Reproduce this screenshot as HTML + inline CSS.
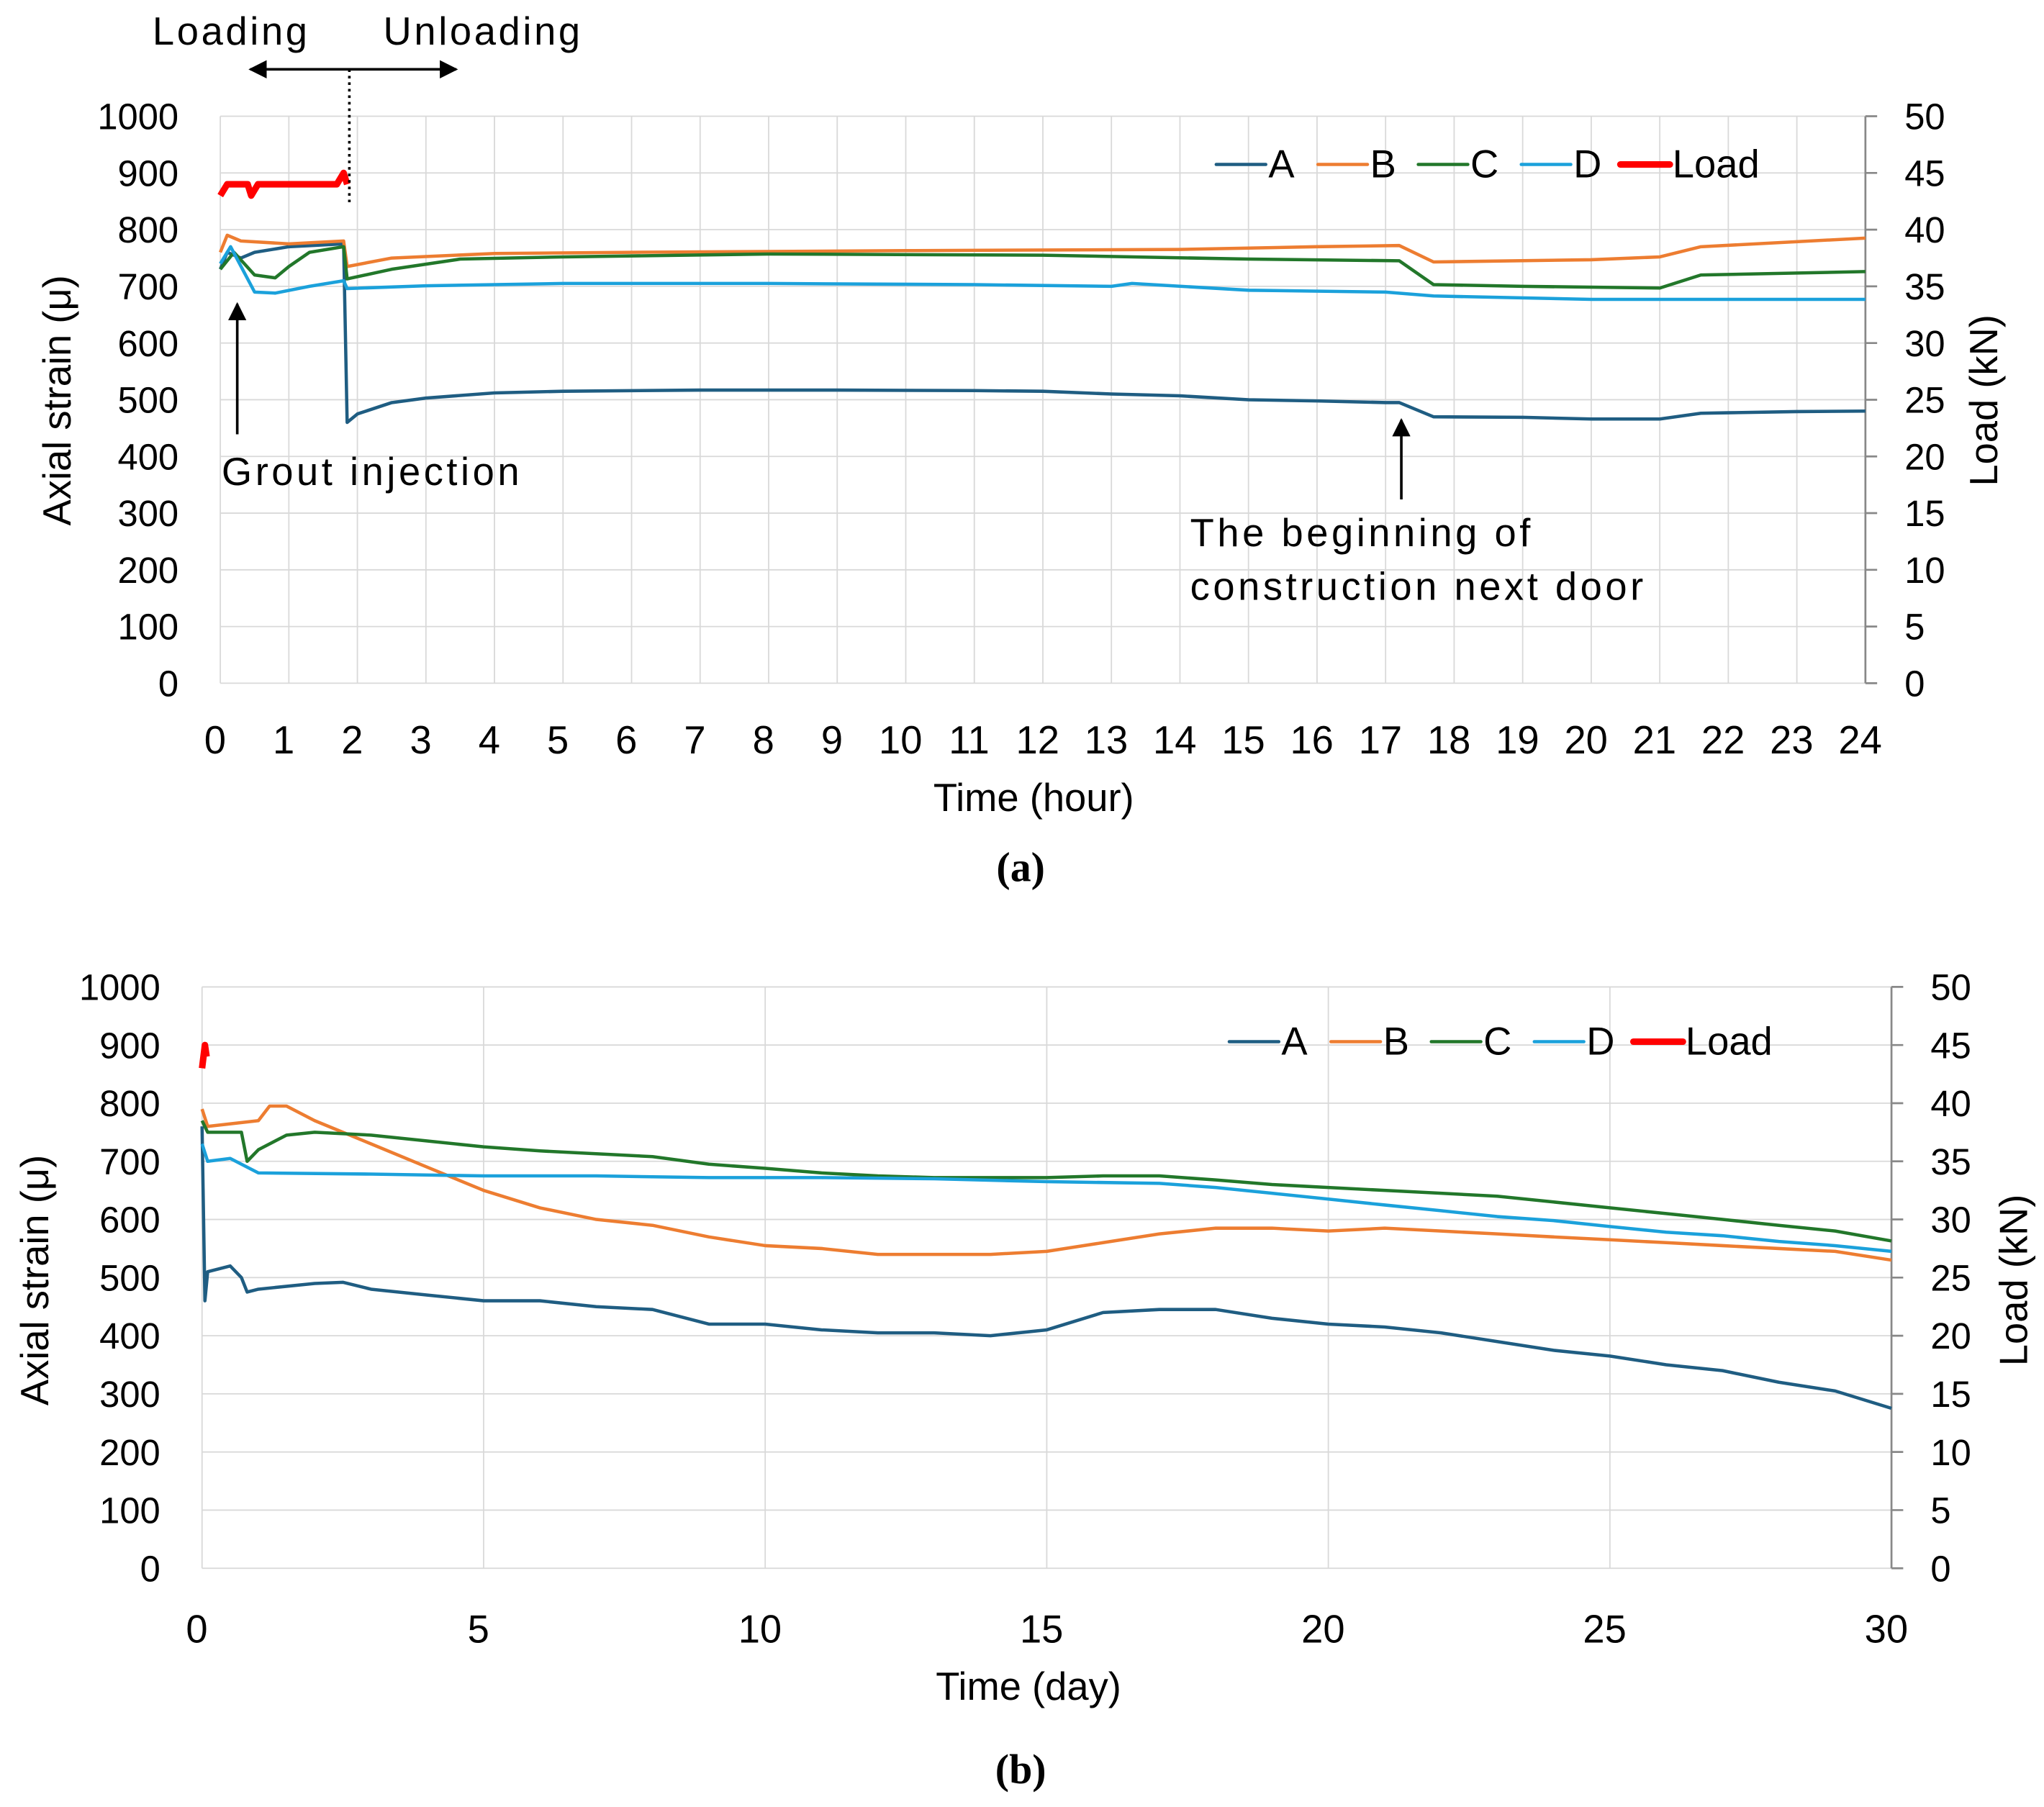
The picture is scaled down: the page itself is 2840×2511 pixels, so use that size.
<!DOCTYPE html>
<html><head><meta charset="utf-8"><style>
html,body{margin:0;padding:0;background:#fff;}
svg{display:block;}
text{font-family:"Liberation Sans Narrow","Liberation Sans",sans-serif;fill:#000;}
</style></head><body>
<svg id="s" width="2840" height="2511" viewBox="0 0 1568 1386"></svg>
<script>
// ---- chart (a) data ----
const aTimeA=[0,0.1,0.3,0.5,1,1.8,1.85,2,2.5,3,4,5,7,9,11,12,13,14,15,16,17,17.2,17.7,19,20,21,21.6,22,23,24];
const aValA=[730,760,750,760,770,775,460,475,495,503,512,515,517,517,516,515,510,507,500,498,495,495,470,469,466,466,476,477,479,480];
const aTimeB=[0,0.1,0.3,1,1.8,1.85,2.5,4,6,10,14,16,17.2,17.7,20,21,21.6,24];
const aValB=[760,790,780,775,780,735,750,758,760,763,765,770,772,743,747,752,770,785];
const aTimeC=[0,0.2,0.5,0.8,1,1.3,1.8,1.85,2.5,3.5,5,8,12,15,17.2,17.7,19,21,21.6,24];
const aValC=[730,760,720,715,735,760,770,713,730,748,752,757,755,748,745,703,700,697,720,726];
const aTimeD=[0,0.15,0.5,0.8,1.3,1.8,1.85,3,5,8,11,13,13.3,15,17,17.7,20,24];
const aValD=[740,770,690,688,700,710,696,701,705,705,703,700,705,693,690,683,677,677];
const aTimeLoad=[0,0.1,0.2,0.4,0.45,0.55,1.7,1.8,1.85];
const aValLoad=[43,44,44,44,43,44,44,45,44];
const aXTicks=[0,1,2,3,4,5,6,7,8,9,10,11,12,13,14,15,16,17,18,19,20,21,22,23,24];
// ---- chart (b) data ----
const bTimeA=[0,0.05,0.1,0.5,0.7,0.8,1,2,2.5,3,4,5,6,7,8,9,10,11,12,13,14,15,16,17,18,19,20,21,22,23,24,25,26,27,28,29,30];
const bValA=[760,460,510,520,500,475,480,490,492,480,470,460,460,450,445,420,420,410,405,405,400,410,440,445,445,430,420,415,405,390,375,365,350,340,320,305,275];
const bTimeB=[0,0.1,1,1.2,1.5,2,3,4,5,6,7,8,9,10,11,12,13,14,15,16,17,18,19,20,21,22,23,24,25,26,27,28,29,30];
const bValB=[790,760,770,795,795,770,730,690,650,620,600,590,570,555,550,540,540,540,545,560,575,585,585,580,585,580,575,570,565,560,555,550,545,530];
const bTimeC=[0,0.1,0.7,0.8,1,1.5,2,3,4,5,6,7,8,9,10,11,12,13,14,15,16,17,18,19,20,21,22,23,24,25,26,27,28,29,30];
const bValC=[770,750,750,700,720,745,750,745,735,725,718,713,708,695,688,680,675,672,672,672,675,675,668,660,655,650,645,640,630,620,610,600,590,580,563];
const bTimeD=[0,0.1,0.5,1,3,5,7,9,11,13,15,17,18,19,20,21,22,23,24,25,26,27,28,29,30];
const bValD=[730,700,705,680,678,675,675,672,672,670,665,662,655,645,635,625,615,605,598,588,578,572,562,555,545];
const bTimeLoad=[0,0.05,0.08];
const bValLoad=[43,45,44];
const bXTicks=[0,5,10,15,20,25,30];
const yTicks=[0,100,200,300,400,500,600,700,800,900,1000];
const y2Ticks=[0,5,10,15,20,25,30,35,40,45,50];

const NS="http://www.w3.org/2000/svg";
const svg=document.getElementById('s');
function el(tag,attrs,parent){const e=document.createElementNS(NS,tag);for(const k in attrs)e.setAttribute(k,attrs[k]);(parent||svg).appendChild(e);return e;}
function txt(str,x,y,size,anchor,parent,extra){const t=el('text',Object.assign({x:x,y:y,'font-size':size,'text-anchor':anchor||'start'},extra||{}),parent);t.textContent=str;return t;}

const colors={A:'#1f5d82',B:'#ed7d31',C:'#22772a',D:'#1ba1db',Load:'#ff0000'};

function chart(cfg){
  const g=el('g',{});
  
  
  const X=v=>cfg.x0+(v-cfg.xmin)/(cfg.xmax-cfg.xmin)*(cfg.x1-cfg.x0);
  const Y=v=>cfg.y0+(v/1000)*(cfg.y1-cfg.y0);
  const Y2=v=>cfg.y0+(v/50)*(cfg.y1-cfg.y0);
  const grid=el('g',{stroke:'#d9d9d9','stroke-width':1},g);
  
  
  yTicks.forEach(v=>el('line',{x1:cfg.x0,x2:cfg.x1,y1:Y(v),y2:Y(v)},grid));
  cfg.xticks.forEach(v=>el('line',{x1:X(v),x2:X(v),y1:cfg.y0,y2:cfg.y1},grid));
  el('line',{x1:cfg.x1,x2:cfg.x1,y1:cfg.y0,y2:cfg.y1,stroke:'#888','stroke-width':1.5},g);
  y2Ticks.forEach(v=>el('line',{x1:cfg.x1,x2:cfg.x1+9,y1:Y2(v),y2:Y2(v),stroke:'#888','stroke-width':1.5},g));
  yTicks.forEach(v=>{const t=txt(String(v),cfg.x0-32,Y(v)+10,28,'end',g);});
  y2Ticks.forEach(v=>{const t=txt(String(v),cfg.x1+30,Y2(v)+10,28,'start',g);});
  cfg.xticks.forEach(v=>{const t=txt(String(v),X(v)-4,cfg.xlabY,30,'middle',g);});
  let t=txt(cfg.xtitle,cfg.xtitleX,cfg.xtitleY,30,'middle',g);
  t=txt('Axial strain (μ)',0,0,30,'middle',g,{transform:`translate(${cfg.ytX},${cfg.ytY}) rotate(-90)`});
  t=txt('Load (kN)',0,0,30,'middle',g,{transform:`translate(${cfg.y2tX},${cfg.ytY}) rotate(-90)`});
  const series=[['A',cfg.tA,cfg.vA],['B',cfg.tB,cfg.vB],['C',cfg.tC,cfg.vC],['D',cfg.tD,cfg.vD]];
  series.forEach(([n,ts,vs])=>{
    const p=el('polyline',{points:ts.map((tt,i)=>X(tt).toFixed(1)+','+Y(vs[i]).toFixed(1)).join(' '),fill:'none',stroke:colors[n],'stroke-width':2.5,'stroke-linejoin':'round'},g);
    
    
  });
  const lp=el('polyline',{points:cfg.tL.map((tt,i)=>X(tt).toFixed(1)+','+Y2(cfg.vL[i]).toFixed(1)).join(' '),fill:'none',stroke:colors.Load,'stroke-width':5,'stroke-linejoin':'round'},g);
  
  
  const lg=el('g',{},g);
  
  
  let lx=cfg.legX;
  ['A','B','C','D','Load'].forEach(n=>{
    const e=el('g',{},lg);
    
    
    el('line',{x1:lx,x2:lx+38,y1:cfg.legY-10,y2:cfg.legY-10,stroke:colors[n],'stroke-width':n==='Load'?5:2.5,'stroke-linecap':'round'},e);
    txt(n,lx+40,cfg.legY,30,'start',e);
    lx+= n==='Load'?0:(n==='A'?78:(n==='B'?77:(n==='C'?79:76)));
  });
  return g;
}

chart({name:'chart-a',x0:169,x1:1431,xmin:0,xmax:24,y0:524,y1:89,xticks:aXTicks,xlabY:578,
  xtitle:'Time (hour)',xtitleX:793,xtitleY:622,ytX:54,y2tX:1532,ytY:307,
  tA:aTimeA,vA:aValA,tB:aTimeB,vB:aValB,tC:aTimeC,vC:aValC,tD:aTimeD,vD:aValD,tL:aTimeLoad,vL:aValLoad,legX:933,legY:136});
chart({name:'chart-b',x0:155,x1:1451,xmin:0,xmax:30,y0:1203,y1:757,xticks:bXTicks,xlabY:1260,
  xtitle:'Time (day)',xtitleX:789,xtitleY:1304,ytX:37,y2tX:1555,ytY:982,
  tA:bTimeA,vA:bValA,tB:bTimeB,vB:bValB,tC:bTimeC,vC:bValC,tD:bTimeD,vD:bValD,tL:bTimeLoad,vL:bValLoad,legX:943,legY:809});

let t;
t=txt('Loading',117,34,30,'start',null,{'letter-spacing':'2'});
t=txt('Unloading',294,34,30,'start',null,{'letter-spacing':'2'});
const defs=el('defs',{});
const mk=el('marker',{id:'ah',viewBox:'0 0 10 10',refX:9,refY:5,markerWidth:7,markerHeight:7,orient:'auto-start-reverse'},defs);
el('path',{d:'M0,0 L10,5 L0,10 z',fill:'#000'},mk);
let a=el('line',{x1:192,x2:350,y1:53,y2:53,stroke:'#000','stroke-width':2,'marker-start':'url(#ah)','marker-end':'url(#ah)'});

a=el('line',{x1:268,x2:268,y1:53,y2:158,stroke:'#000','stroke-width':2,'stroke-dasharray':'2,3'});

a=el('line',{x1:182,x2:182,y1:333,y2:233,stroke:'#000','stroke-width':2,'marker-end':'url(#ah)'});

t=txt('Grout injection',170,372,30,'start',null,{'letter-spacing':'2.5'});
a=el('line',{x1:1075,x2:1075,y1:383,y2:322,stroke:'#000','stroke-width':2,'marker-end':'url(#ah)'});

t=txt('The beginning of',913,419,30,'start',null,{'letter-spacing':'2.5'});
t=txt('construction next door',913,460,30,'start',null,{'letter-spacing':'2.5'});
t=el('text',{x:783,y:676,'font-size':32,'text-anchor':'middle',style:'font-family:"Liberation Serif",serif;font-weight:bold'});t.textContent='(a)';

t=el('text',{x:783,y:1368,'font-size':32,'text-anchor':'middle',style:'font-family:"Liberation Serif",serif;font-weight:bold'});t.textContent='(b)';

</script>
</body></html>
